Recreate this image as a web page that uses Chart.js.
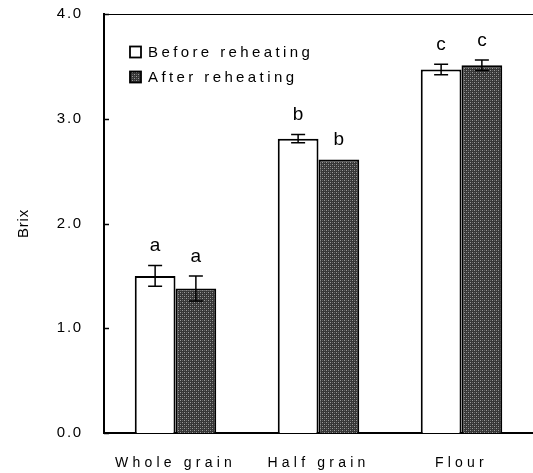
<!DOCTYPE html>
<html>
<head>
<meta charset="utf-8">
<script src="https://cdn.jsdelivr.net/npm/chart.js@4"></script>
<style>
html,body{margin:0;padding:0;background:#fff;}
#wrap{width:533px;height:473px;}
</style>
</head>
<body>
<div id="wrap"><canvas id="c" width="533" height="473"></canvas></div>
<script>
const categories = ["Whole grain", "Half grain", "Flour"];
const seriesNames = ["Before reheating", "After reheating"];
const beforeValues = [1.5, 2.81, 3.47];
const afterValues = [1.38, 2.61, 3.51];
const beforeErrors = [0.1, 0.04, 0.05];
const afterErrors = [0.12, 0.0, 0.05];
const beforeLetters = ["a", "b", "c"];
const afterLetters = ["a", "b", "c"];
const yTicks = [0, 1, 2, 3, 4];

const FONT = '"Liberation Sans", Arial, sans-serif';

function makePattern() {
  const p = document.createElement('canvas');
  p.width = 4; p.height = 4;
  const g = p.getContext('2d');
  g.fillStyle = '#363636';
  g.fillRect(0, 0, 4, 4);
  g.fillStyle = '#9a9a9a';
  g.fillRect(0, 0, 1, 1);
  g.fillRect(2, 2, 1, 1);
  g.fillStyle = '#646464';
  g.fillRect(2, 0, 1, 1);
  g.fillRect(0, 2, 1, 1);
  return document.getElementById('c').getContext('2d').createPattern(p, 'repeat');
}
const pattern = makePattern();

const errs = [beforeErrors, afterErrors];
const letters = [beforeLetters, afterLetters];

function withSpacing(scale, method, spacing) {
  const orig = scale[method];
  scale[method] = function (...args) {
    const ctx = this.ctx;
    ctx.save();
    ctx.letterSpacing = spacing;
    orig.apply(this, args);
    ctx.restore();
  };
}

const spacingPlugin = {
  id: 'spacing',
  afterLayout(chart) {
    const x = chart.scales.x, y = chart.scales.y;
    if (!x._spaced) { withSpacing(x, 'drawLabels', '4.2px'); x._spaced = true; }
    if (!y._spaced) { withSpacing(y, 'drawLabels', '1.8px'); withSpacing(y, 'drawTitle', '0.8px'); y._spaced = true; }
  }
};

const decor = {
  id: 'decor',
  afterDatasetsDraw(chart) {
    const ctx = chart.ctx;
    const y = chart.scales.y;
    const a = chart.chartArea;
    ctx.save();
    ctx.strokeStyle = '#000';
    ctx.lineWidth = 1;
    ctx.beginPath();
    ctx.moveTo(a.left, a.top + 0.5);
    ctx.lineTo(a.right, a.top + 0.5);
    ctx.stroke();
    ctx.lineWidth = 1.5;
    yTicks.forEach(v => {
      const py = Math.round(y.getPixelForValue(v)) + 0.5;
      ctx.beginPath();
      ctx.moveTo(a.left, py);
      ctx.lineTo(a.left + 5, py);
      ctx.stroke();
    });
    chart.data.datasets.forEach((ds, di) => {
      const meta = chart.getDatasetMeta(di);
      meta.data.forEach((bar, i) => {
        const v = ds.data[i];
        const e = errs[di][i];
        const x = bar.x;
        const top = y.getPixelForValue(v + e);
        const bot = y.getPixelForValue(v - e);
        ctx.strokeStyle = '#000';
        ctx.lineWidth = 1.5;
        if (e > 0) {
          ctx.beginPath();
          ctx.moveTo(x, top); ctx.lineTo(x, bot);
          ctx.moveTo(x - 7, top); ctx.lineTo(x + 7, top);
          ctx.moveTo(x - 7, bot); ctx.lineTo(x + 7, bot);
          ctx.stroke();
        }
        ctx.fillStyle = '#000';
        ctx.font = '19px ' + FONT;
        ctx.textAlign = 'center';
        ctx.textBaseline = 'bottom';
        ctx.letterSpacing = '0px';
        ctx.fillText(letters[di][i], x, top - 10);
      });
    });
    ctx.font = '15px ' + FONT;
    ctx.letterSpacing = '3.4px';
    ctx.textAlign = 'left';
    ctx.textBaseline = 'middle';
    const rows = [52, 77];
    chart.data.datasets.forEach((ds, di) => {
      const ry = rows[di];
      ctx.fillStyle = di === 0 ? '#fff' : pattern;
      ctx.fillRect(130, ry - 5.5, 11, 11);
      ctx.strokeStyle = '#000';
      ctx.lineWidth = 1.8;
      ctx.strokeRect(130, ry - 5.5, 11, 11);
      ctx.fillStyle = '#000';
      ctx.fillText(ds.label, 148, ry + 1);
    });
    ctx.restore();
  }
};

new Chart(document.getElementById('c'), {
  type: 'bar',
  data: {
    labels: categories,
    datasets: [
      { label: seriesNames[0], data: beforeValues, backgroundColor: '#fff', borderColor: '#000', borderWidth: 2 },
      { label: seriesNames[1], data: afterValues, backgroundColor: pattern, borderColor: '#000', borderWidth: 2 }
    ]
  },
  options: {
    responsive: false,
    animation: false,
    layout: { padding: { left: 15, right: 0, top: 14, bottom: 0 } },
    datasets: { bar: { categoryPercentage: 0.57, barPercentage: 1.0 } },
    plugins: { legend: { display: false }, tooltip: { enabled: false } },
    scales: {
      x: {
        grid: { display: false, drawTicks: false },
        border: { display: true, color: '#000', width: 2 },
        ticks: {
          color: '#000', padding: 22,
          font: { family: FONT, size: 14 }
        },
        afterFit(s) { s.height = 40; s.paddingLeft = 0; s.paddingRight = 0; }
      },
      y: {
        min: 0, max: 4,
        grid: { display: false, drawTicks: false },
        border: { display: true, color: '#000', width: 2 },
        ticks: {
          stepSize: 1, color: '#000', padding: 21,
          font: { family: FONT, size: 15 },
          callback: v => v.toFixed(1)
        },
        title: {
          display: true, text: 'Brix', color: '#000',
          font: { family: FONT, size: 15 },
          padding: { top: 0, bottom: 0 }
        },
        afterFit(s) { s.width = 89; s.paddingTop = 0; s.paddingBottom = 0; }
      }
    }
  },
  plugins: [decor, spacingPlugin]
});
</script>
</body>
</html>
